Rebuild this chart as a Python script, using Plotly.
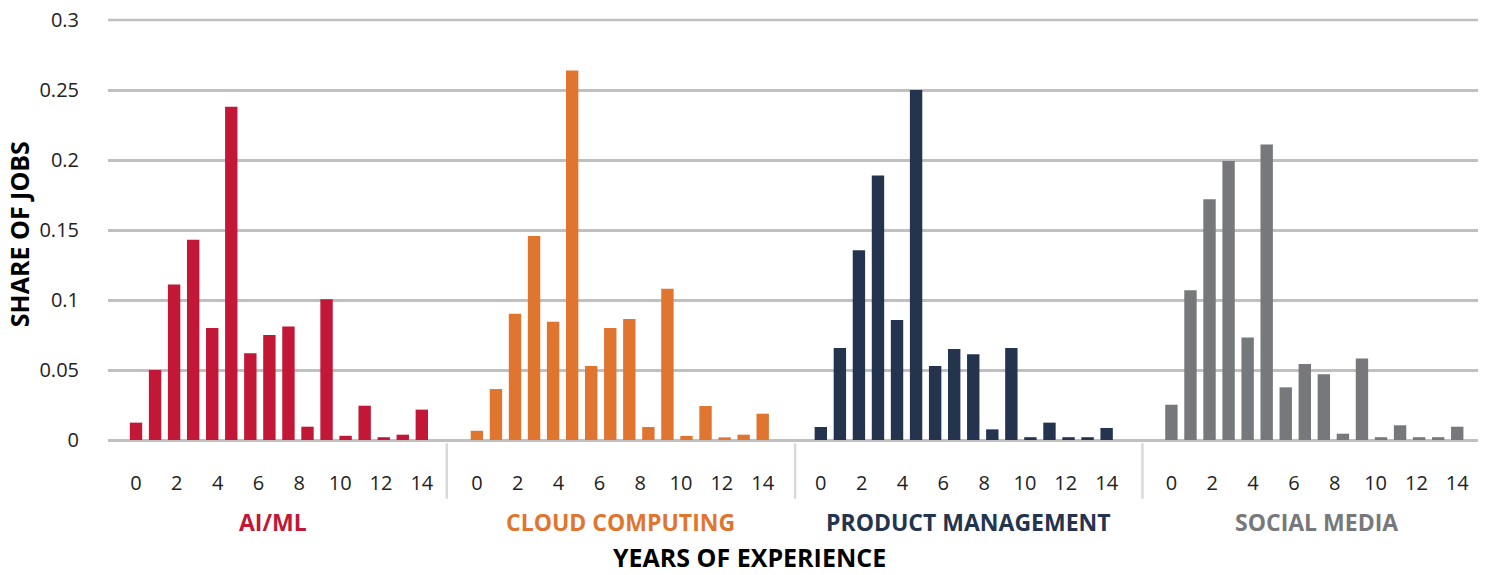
import plotly.graph_objects as go

YEARS = [0, 1, 2, 3, 4, 5, 6, 7, 8, 9, 10, 11, 12, 13, 14, 15]
TICK_LABELS = ["0", "2", "4", "6", "8", "10", "12", "14"]

GROUPS = ["AI/ML", "CLOUD COMPUTING", "PRODUCT MANAGEMENT", "SOCIAL MEDIA"]
COLORS = ["#C21737", "#E07530", "#24344F", "#77787B"]

ai_ml = [0.0124, 0.050, 0.111, 0.143, 0.080, 0.238, 0.062, 0.075,
         0.081, 0.0095, 0.1005, 0.003, 0.0245, 0.002, 0.0038, 0.0217]
cloud = [0.0066, 0.0364, 0.0902, 0.1457, 0.0845, 0.264, 0.0529, 0.080,
         0.0864, 0.0093, 0.108, 0.0029, 0.0243, 0.0019, 0.0038, 0.0188]
product = [0.0093, 0.0657, 0.1355, 0.189, 0.0857, 0.250, 0.0529, 0.065,
           0.0612, 0.0076, 0.0657, 0.002, 0.0124, 0.002, 0.002, 0.0086]
social = [0.0252, 0.107, 0.172, 0.1993, 0.0733, 0.211, 0.0376, 0.0543,
          0.0469, 0.0045, 0.0583, 0.002, 0.0105, 0.002, 0.002, 0.0095]
SERIES = [ai_ml, cloud, product, social]

# layout: each group is drawn on one numeric axis, shifted by an offset (bar units)
OFFSETS = [0, 17.89, 35.94, 54.34]
SEPARATORS = [16.31, 34.59, 52.82]
GROUP_WIDTH = 18.26
FONT = "Open Sans"
GRID = "#C0C0C0"

fig = go.Figure()
for name, vals, col, off in zip(GROUPS, SERIES, COLORS, OFFSETS):
    fig.add_trace(go.Bar(
        x=[off + y for y in YEARS],
        y=vals,
        name=name,
        width=0.65,
        marker=dict(color=col, line=dict(width=0)),
        showlegend=False,
    ))

tickvals, ticktext = [], []
for off in OFFSETS:
    for lab in TICK_LABELS:
        tickvals.append(off + int(lab) * 15 / 14)
        ticktext.append(lab)

shapes = [
    dict(type="line", xref="x", yref="paper", x0=s, x1=s, y0=-0.008, y1=-0.14,
         line=dict(color="#D9D9D9", width=2.5))
    for s in SEPARATORS
]
# top gridline sits on the plot edge, plotly drops it, so draw it by hand
shapes.append(dict(type="line", xref="paper", yref="paper", x0=0, x1=1, y0=1, y1=1,
                   line=dict(color=GRID, width=2.5), layer="below"))

annotations = []
for i, (name, col) in enumerate(zip(GROUPS, COLORS)):
    annotations.append(dict(
        x=SEPARATORS[0] - GROUP_WIDTH / 2 + i * GROUP_WIDTH, xref="x",
        y=-0.195, yref="paper", yanchor="middle", showarrow=False,
        text=f"<b>{name}</b>", font=dict(family=FONT, size=23, color=col),
    ))
annotations.append(dict(
    x=0.4686, xref="paper", y=-0.279, yref="paper", yanchor="middle", showarrow=False,
    text="<b>YEARS OF EXPERIENCE</b>", font=dict(family=FONT, size=25, color="#000000"),
))
annotations.append(dict(
    x=-0.065, xref="paper", y=0.49, yref="paper", xanchor="center", yanchor="middle",
    showarrow=False, textangle=-90,
    text="<b>SHARE OF JOBS</b>", font=dict(family=FONT, size=25, color="#000000"),
))

fig.update_xaxes(
    range=[-1.47, 70.43], automargin=False,
    tickmode="array", tickvals=tickvals, ticktext=ticktext,
    ticks="outside", ticklen=25, tickcolor="rgba(0,0,0,0)",
    showgrid=False, zeroline=False, showline=False,
    tickfont=dict(family=FONT, size=20, color="#222222"),
)
fig.update_yaxes(
    range=[0, 0.3], dtick=0.05, automargin=False,
    showgrid=True, gridcolor=GRID, gridwidth=2.5,
    zeroline=True, zerolinecolor=GRID, zerolinewidth=2.5,
    ticks="outside", ticklen=24, tickcolor="rgba(0,0,0,0)",
    ticklabeloverflow="allow",
    tickfont=dict(family=FONT, size=20, color="#222222"),
)
fig.update_layout(
    width=1489, height=575,
    margin=dict(l=108, r=11, t=20, b=135),
    plot_bgcolor="white", paper_bgcolor="white",
    shapes=shapes,
    annotations=annotations,
)

# drop the default 8px page margin so the figure fills the window exactly
fig.write_html(
    "out.html",
    config={"displayModeBar": False},
    post_script="document.body.style.margin = '0';",
)
